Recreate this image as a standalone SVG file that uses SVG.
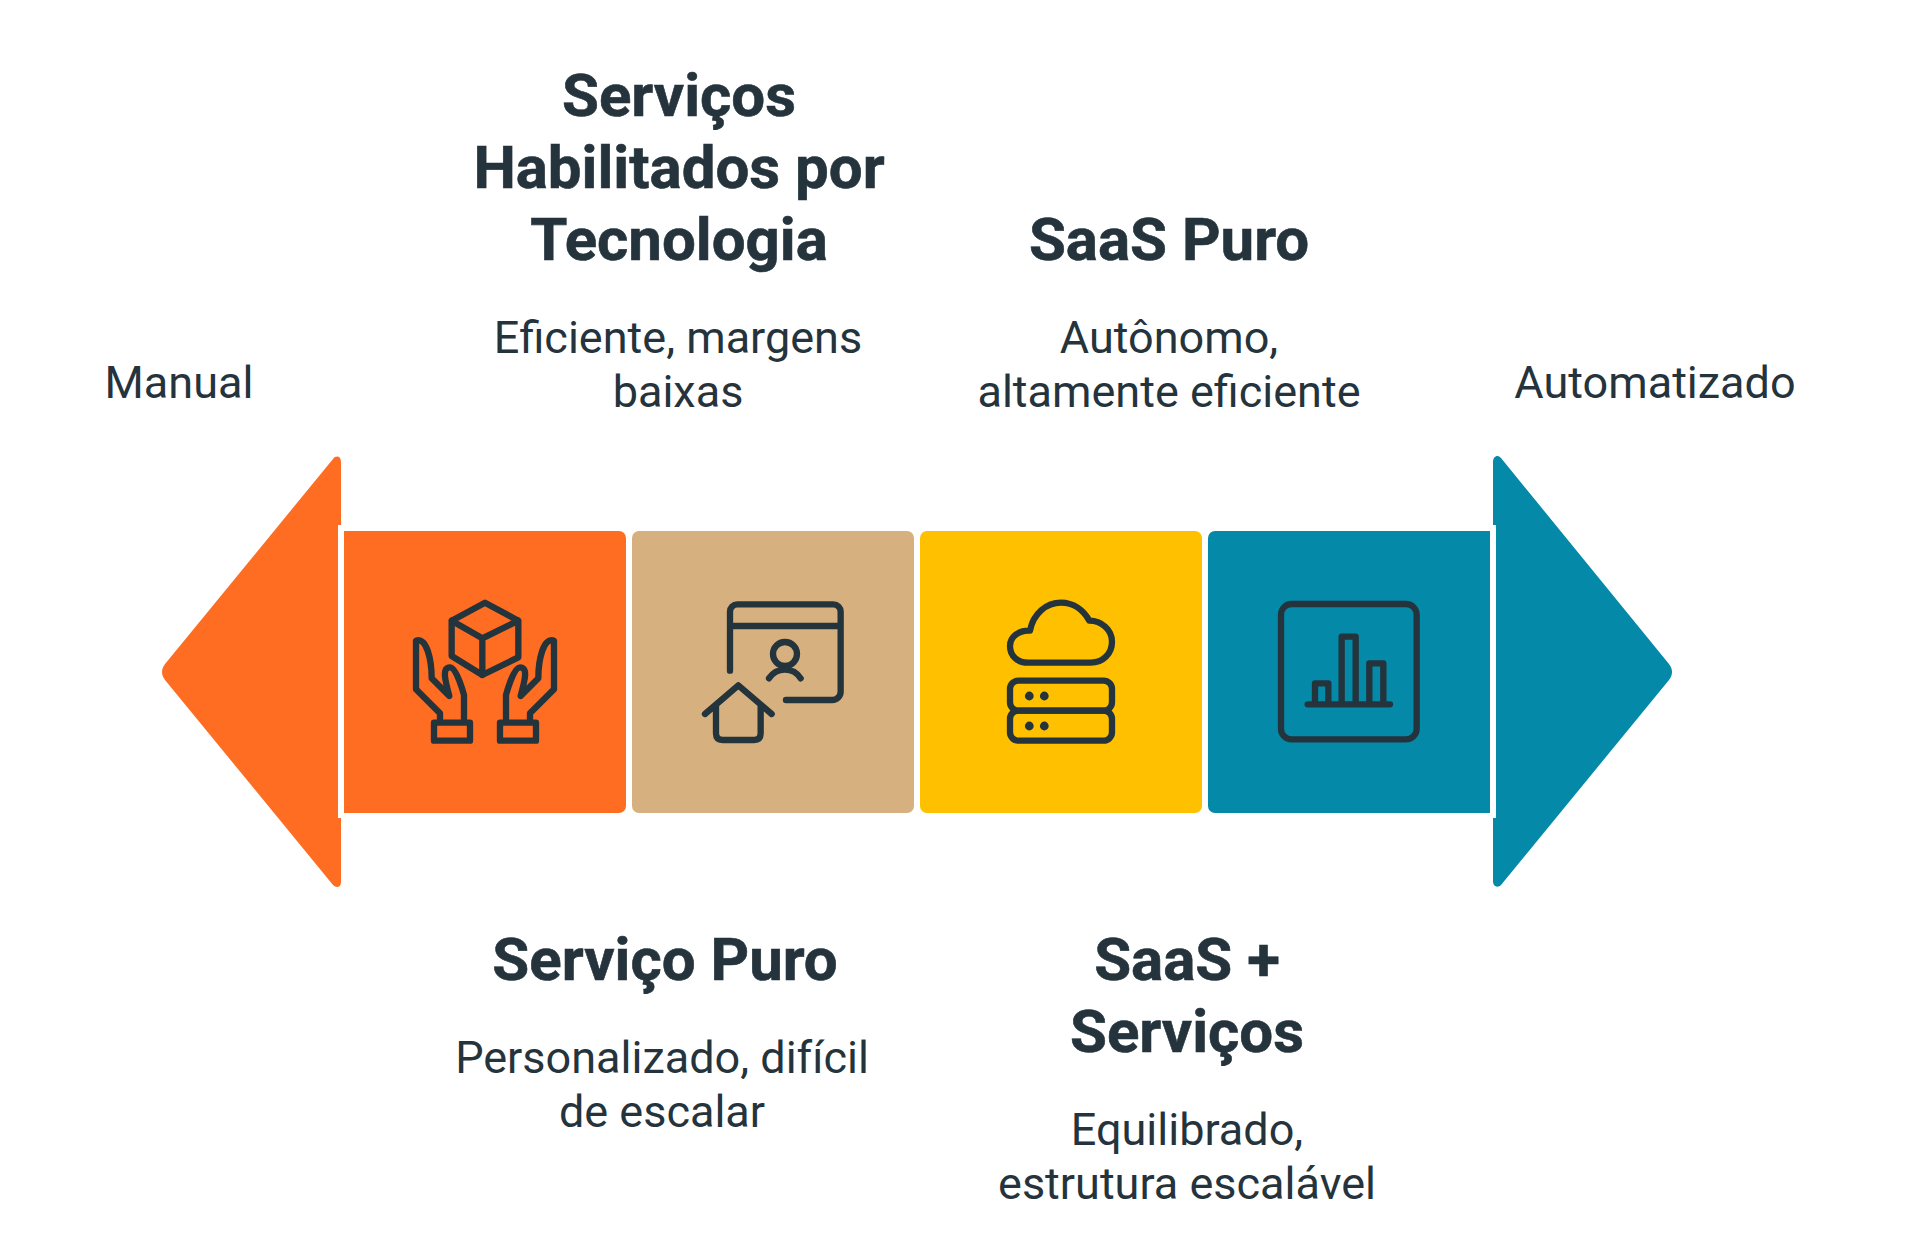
<svg xmlns="http://www.w3.org/2000/svg" width="1907" height="1241" viewBox="0 0 1907 1241">
<style>
text{font-family:Roboto,"Liberation Sans",sans-serif;fill:#25343c;text-anchor:middle}
.t{font-size:60px;font-weight:700;stroke:#25343c;stroke-width:.6px}
.b{font-size:45px;font-weight:400}
.i{fill:none;stroke:#24343c;stroke-width:19;stroke-linecap:round;stroke-linejoin:round}
</style>
<rect width="1907" height="1241" fill="#fff"/>
<g id="arrow-left"><path d="M341,462 V525 H338 V818 H341 V882 C341,888 336,888 333,885 L165,680 C161,675 161,669 165,664 L333,459 C336,455 341,456 341,462 Z" fill="#FF6D22"/></g>
<g id="step-1"><path d="M344,531 H619 a7,7 0 0 1 7,7 V806 a7,7 0 0 1 -7,7 H344 Z" fill="#FF6D22"/>
<g class="i" transform="translate(390,580) scale(.3333)"><path d="M285,68 L385,122 V232 L277,285 L185,228 V122 Z M185,122 L277,175 L385,122 M277,175 V285"/><path d="M150,425 V400 L78,328 V182 C110,170 125,240 125,295 L178,348 C165,300 155,262 180,262 C200,262 222,345 222,345 V425"/><path d="M420,425 V400 L492,328 V182 C460,170 445,240 445,295 L392,348 C405,300 415,262 390,262 C370,262 348,345 348,345 V425"/><rect x="132" y="428" width="108" height="54"/><rect x="330" y="428" width="108" height="54"/></g></g>
<g id="step-2"><rect x="632" y="531" width="282" height="282" rx="7" fill="#D7B07F"/>
<g class="i" transform="translate(650,560) scale(.3333)"><path d="M240,332 V155 a22,22 0 0 1 22,-22 H550 a22,22 0 0 1 22,22 V395 a25,25 0 0 1 -25,25 H408 M240,198 H572"/><circle cx="405" cy="282" r="36"/><path d="M357,355 C380,320 430,320 452,355 M165,462 L265,376 L365,462 M198,435 V520 q0,20 20,20 H312 q20,0 20,-20 V435"/></g></g>
<g id="step-3"><rect x="920" y="531" width="282" height="282" rx="7" fill="#FFC000"/>
<g class="i" transform="translate(960,560) scale(.3333)"><path d="M210,212 C220,160 260,128 303,128 C340,128 370,150 388,182 C425,182 456,210 456,245 C456,280 430,308 392,308 H205 C175,308 150,290 150,258 C150,232 175,210 210,212 Z"/><rect x="150" y="362" width="306" height="90" rx="25"/><rect x="150" y="452" width="306" height="90" rx="25"/></g>
<g fill="#24343c"><circle cx="1029.300" cy="696" r="4.400"/><circle cx="1044.300" cy="696" r="4.400"/><circle cx="1029.300" cy="726" r="4.400"/><circle cx="1044.300" cy="726" r="4.400"/></g></g>
<g id="step-4"><path d="M1215,531 H1490 V813 H1215 a7,7 0 0 1 -7,-7 V538 a7,7 0 0 1 7,-7 Z" fill="#0589A9"/>
<g class="i" transform="translate(1260,590) scale(.3333)"><rect x="63" y="42" width="407" height="406" rx="32"/><path d="M143,343 H390 M165,343 V280 H205 V343 M245,343 V140 H287 V343 M328,343 V220 H370 V343"/></g></g>
<g id="arrow-right"><path d="M1493,462 V525 H1496 V818 H1493 V881 C1493,887 1498,888 1501,885 L1669,680 C1673,675 1673,669 1669,664 L1501,458 C1498,454 1493,456 1493,462 Z" fill="#0589A9"/></g>
<g id="connectors"></g>
<g id="label-manual"><text class="b" x="179" y="398">Manual</text></g>
<g id="label-automatizado"><text class="b" x="1655" y="398">Automatizado</text></g>
<g id="label-2"><text class="t" x="679" y="116">Serviços</text><text class="t" x="679" y="188">Habilitados por</text><text class="t" x="679" y="260">Tecnologia</text><text class="b" x="678" y="353">Eficiente, margens</text><text class="b" x="678" y="407">baixas</text></g>
<g id="label-3"><text class="t" x="1169" y="260">SaaS Puro</text><text class="b" x="1169" y="353">Autônomo,</text><text class="b" x="1169" y="407">altamente eficiente</text></g>
<g id="label-1"><text class="t" x="665" y="980">Serviço Puro</text><text class="b" x="662" y="1073">Personalizado, difícil</text><text class="b" x="662" y="1127">de escalar</text></g>
<g id="label-4"><text class="t" x="1187" y="980">SaaS +</text><text class="t" x="1187" y="1052">Serviços</text><text class="b" x="1187" y="1145">Equilibrado,</text><text class="b" x="1187" y="1199">estrutura escalável</text></g>
</svg>
